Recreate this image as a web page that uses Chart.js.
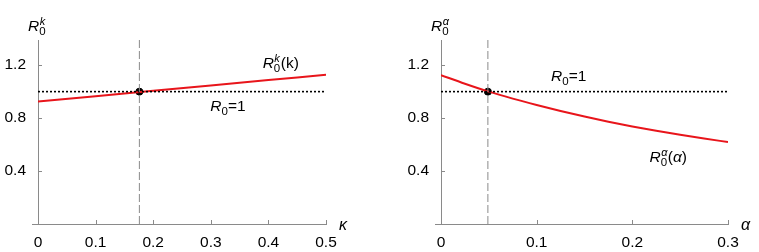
<!DOCTYPE html>
<html>
<head>
<meta charset="utf-8">
<script src="https://cdn.jsdelivr.net/npm/chart.js@4.4.0/dist/chart.umd.min.js"></script>
<style>
  body { margin: 0; background: #fff; width: 759px; height: 252px; position: relative; overflow: hidden; }
  canvas { position: absolute; top: 0; }
</style>
</head>
<body>
<canvas id="c1" width="380" height="252" style="left:0"></canvas>
<canvas id="c2" width="380" height="252" style="left:379px"></canvas>
<script>
// values
const kappaVals = [0, 0.1, 0.2, 0.3, 0.4, 0.5];
const r0KappaVals = [0.925, 0.965, 1.007, 1.047, 1.087, 1.127];
const kappaStar = 0.176;

const alphaVals = [0, 0.025, 0.05, 0.075, 0.1, 0.125, 0.15, 0.175, 0.2, 0.225, 0.25, 0.275, 0.3];
const r0AlphaVals = [1.125, 1.06, 1.0, 0.947, 0.899, 0.854, 0.812, 0.773, 0.737, 0.704, 0.674, 0.646, 0.619];
const alphaStar = 0.049;

const kappaTicks = [0, 0.1, 0.2, 0.3, 0.4, 0.5];
const alphaTicks = [0, 0.1, 0.2, 0.3];
const yTicks = [0.4, 0.8, 1.2];
const yMax = 1.39;

const RED = '#e8151b';
const AXIS = '#8a8a8a';
const FONT = '"Liberation Sans", Arial, sans-serif';

// draws R with subscript 0 and a superscript, then the rest
function drawR(ctx, x, y, sup, rest) {
  ctx.fillStyle = '#000';
  ctx.textBaseline = 'alphabetic';
  ctx.textAlign = 'left';
  ctx.font = 'italic 15.5px ' + FONT;
  ctx.fillText('R', x, y);
  const w = ctx.measureText('R').width;
  ctx.font = '11.5px ' + FONT;
  ctx.fillText('0', x + w, y + 4);
  ctx.font = 'italic 11px ' + FONT;
  ctx.fillText(sup, x + w + 0.5, y - 6);
  let cx = x + w + 7;
  rest.forEach(p => {
    ctx.font = (p.italic ? 'italic ' : '') + '15.5px ' + FONT;
    ctx.fillText(p.t, cx, y);
    cx += ctx.measureText(p.t).width;
  });
}

const annot = {
  id: 'annot',
  afterDatasetsDraw(chart, args, opts) {
    const ctx = chart.ctx, xs = chart.scales.x, ys = chart.scales.y, a = chart.chartArea;
    ctx.save();
    // inward tick marks
    ctx.strokeStyle = AXIS;
    ctx.lineWidth = 1;
    ctx.beginPath();
    xs.ticks.forEach(t => {
      if (t.value === 0) return;
      const px = Math.round(xs.getPixelForValue(t.value)) + 0.5;
      ctx.moveTo(px, a.bottom);
      ctx.lineTo(px, a.bottom - 4);
    });
    ys.ticks.forEach(t => {
      const py = Math.round(ys.getPixelForValue(t.value)) + 0.5;
      ctx.moveTo(a.left, py);
      ctx.lineTo(a.left + 4, py);
    });
    // x axis sticks out a little to the left
    ctx.moveTo(a.left - 6, a.bottom + 0.5);
    ctx.lineTo(a.left, a.bottom + 0.5);
    ctx.stroke();

    // axis titles
    drawR(ctx, a.left - 10, a.top - 9, opts.sym, []);
    ctx.font = 'italic 16px ' + FONT;
    ctx.fillText(opts.sym === 'k' ? '\u03ba' : '\u03b1', a.right + 13, a.bottom + 6);

    // curve label
    const cl = opts.curveLabel;
    drawR(ctx, xs.getPixelForValue(cl.x), ys.getPixelForValue(cl.y), opts.sym, cl.rest);
    // R0 = 1 label
    const ol = opts.oneLabel;
    const ox = xs.getPixelForValue(ol.x), oy = ys.getPixelForValue(ol.y);
    ctx.font = 'italic 15.5px ' + FONT;
    ctx.fillText('R', ox, oy);
    const w = ctx.measureText('R').width;
    ctx.font = '11.5px ' + FONT;
    ctx.fillText('0', ox + w, oy + 4);
    ctx.font = '15.5px ' + FONT;
    ctx.fillText('=1', ox + w + 6.5, oy);
    ctx.restore();
  }
};

function makeChart(id, xVals, yVals, star, xTicks, xMax, yWidth, padRight, annotOpts) {
  const curve = xVals.map((v, i) => ({ x: v, y: yVals[i] }));
  return new Chart(document.getElementById(id), {
    type: 'line',
    data: {
      datasets: [
        { data: [{ x: star, y: 0 }, { x: star, y: yMax }], borderColor: AXIS, borderWidth: 1, borderDash: [8, 3], pointRadius: 0 },
        { data: [{ x: 0, y: 1 }, { x: xMax, y: 1 }], borderColor: '#000', borderWidth: 1.6, borderDash: [2, 2], pointRadius: 0 },
        { data: curve, borderColor: RED, borderWidth: 2, pointRadius: 0, cubicInterpolationMode: 'monotone' },
        { data: [{ x: star, y: 1 }], showLine: false, pointRadius: 3.5, pointBackgroundColor: '#000', pointBorderColor: '#000' }
      ]
    },
    options: {
      responsive: false,
      animation: false,
      events: [],
      layout: { padding: { left: 0, right: padRight, top: 40, bottom: 0 } },
      plugins: { legend: { display: false }, tooltip: { enabled: false }, annot: annotOpts },
      scales: {
        x: {
          type: 'linear', min: 0, max: xMax,
          grid: { display: false },
          border: { display: true, color: AXIS, width: 1 },
          afterBuildTicks: s => { s.ticks = xTicks.map(v => ({ value: v })); },
          afterFit: s => { s.height = 28; },
          ticks: {
            padding: 1, color: '#000', maxRotation: 0,
            font: { family: FONT, size: 15.5 },
            callback: v => v === 0 ? '0' : v.toFixed(1)
          }
        },
        y: {
          type: 'linear', min: 0, max: yMax,
          grid: { display: false },
          border: { display: true, color: AXIS, width: 1 },
          afterBuildTicks: s => { s.ticks = yTicks.map(v => ({ value: v })); },
          afterFit: s => { s.width = yWidth; },
          ticks: {
            padding: 4, color: '#000',
            font: { family: FONT, size: 15.5 },
            callback: v => v.toFixed(1)
          }
        }
      }
    },
    plugins: [annot]
  });
}

makeChart('c1', kappaVals, r0KappaVals, kappaStar, kappaTicks, 0.5, 38, 54, {
  sym: 'k',
  curveLabel: { x: 0.39, y: 1.175, rest: [{ t: '(k)' }] },
  oneLabel: { x: 0.299, y: 0.855 }
});

makeChart('c2', alphaVals, r0AlphaVals, alphaStar, alphaTicks, 0.3, 62, 31, {
  sym: '\u03b1',
  curveLabel: { x: 0.218, y: 0.47, rest: [{ t: '(' }, { t: '\u03b1', italic: true }, { t: ')' }] },
  oneLabel: { x: 0.115, y: 1.08 }
});
</script>
</body>
</html>
